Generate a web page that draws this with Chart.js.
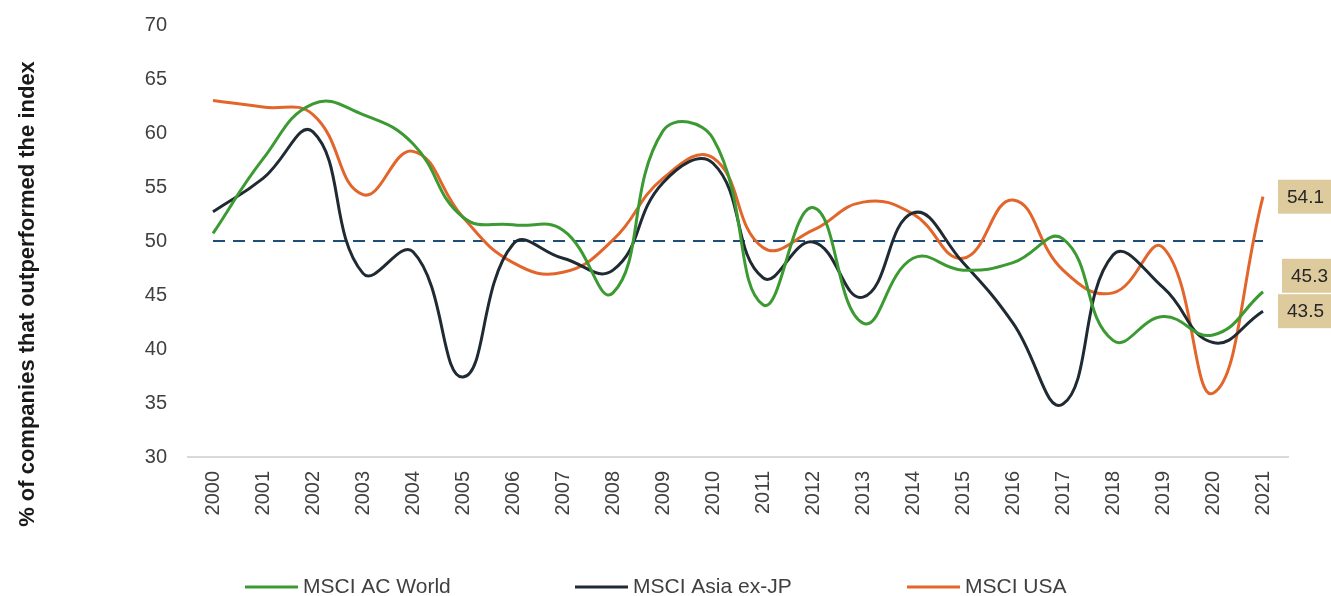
<!DOCTYPE html>
<html>
<head>
<meta charset="utf-8">
<script src="https://cdn.jsdelivr.net/npm/chart.js@4/dist/chart.umd.min.js"></script>
<style>
html,body{margin:0;padding:0;background:#fff;}
#wrap{width:1331px;height:596px;position:relative;}
</style>
</head>
<body>
<div id="wrap"><canvas id="c" width="1331" height="596"></canvas></div>
<script>
const years = ['2000','2001','2002','2003','2004','2005','2006','2007','2008','2009','2010','2011','2012','2013','2014','2015','2016','2017','2018','2019','2020','2021'];
const acWorld = [50.7,57.6,62.7,61.7,59.0,52.2,51.5,51.0,45.2,60.2,59.5,44.1,53.1,42.4,48.4,47.3,48.0,50.2,40.8,43.0,41.3,45.3];
const asiaExJP = [52.7,55.8,60.1,47.0,49.0,37.4,49.7,48.4,47.3,55.4,57.2,46.6,49.9,44.8,52.6,48.0,42.4,34.9,48.7,45.7,40.6,43.5];
const msciUSA = [63.0,62.4,61.7,54.3,58.3,52.2,48.0,47.1,50.1,55.8,57.7,49.4,51.0,53.6,52.5,48.4,53.8,47.3,45.2,49.4,35.9,54.1];
const threshold = years.map(() => 50);
const yTicks = [30,35,40,45,50,55,60,65,70];
const seriesNames = ['MSCI AC World','MSCI Asia ex-JP','MSCI USA'];
const axisTitle = '% of companies that outperformed the index';

const colors = ['#3C9A32','#1F2A33','#E2662B'];
const FONT = '"Liberation Sans", Arial, sans-serif';

// end-of-line value labels per dataset index (vertical nudge in px, left edge of box)
const endLabelStyle = [{dy:-16, x:1282},{dy:0, x:1278},{dy:0, x:1278}];

const endLabels = {
  id:'endLabels',
  afterDatasetsDraw(chart){
    const ctx = chart.ctx;
    ctx.save();
    [2,0,1].forEach(i=>{
      const meta = chart.getDatasetMeta(i);
      const pt = meta.data[meta.data.length-1];
      const ds = chart.data.datasets[i];
      const v = ds.data[ds.data.length-1];
      const st = endLabelStyle[i];
      const cy = pt.y + st.dy;
      ctx.fillStyle = '#DDCB9E';
      ctx.fillRect(st.x, cy-17, 1331-st.x, 34);
      ctx.fillStyle = '#262626';
      ctx.font = '19px ' + FONT;
      ctx.textBaseline = 'middle';
      ctx.textAlign = 'left';
      ctx.fillText(v.toFixed(1), st.x + 9, cy + 1);
    });
    ctx.restore();
  }
};

const extras = {
  id:'extras',
  afterDraw(chart){
    const ctx = chart.ctx;
    ctx.save();
    ctx.translate(28, 294);
    ctx.rotate(-Math.PI/2);
    ctx.font = 'bold 22px ' + FONT;
    ctx.fillStyle = '#1a1a1a';
    ctx.textAlign = 'center';
    ctx.textBaseline = 'middle';
    ctx.fillText(axisTitle, 0, 0);
    ctx.restore();
    ctx.save();
    const starts = [245, 575, 907];
    const y = 587;
    ctx.font = '21px ' + FONT;
    ctx.textBaseline = 'middle';
    ctx.textAlign = 'left';
    seriesNames.forEach((n,i)=>{
      ctx.strokeStyle = colors[i];
      ctx.lineWidth = 3;
      ctx.beginPath();
      ctx.moveTo(starts[i], y);
      ctx.lineTo(starts[i]+53, y);
      ctx.stroke();
      ctx.fillStyle = '#404040';
      ctx.fillText(n, starts[i]+58, y);
    });
    ctx.restore();
  }
};

const mk = (label, data, color) => ({
  label, data, borderColor: color, backgroundColor: color,
  borderWidth: 3, pointRadius: 0, tension: 0.45, fill: false
});

new Chart(document.getElementById('c'), {
  type:'line',
  data:{
    labels: years,
    datasets:[
      mk(seriesNames[0], acWorld, colors[0]),
      mk(seriesNames[1], asiaExJP, colors[1]),
      mk(seriesNames[2], msciUSA, colors[2]),
      {label:'50%', data: threshold, borderColor:'#1F4E79', borderWidth:2, borderDash:[12,8], pointRadius:0, tension:0, fill:false}
    ]
  },
  options:{
    responsive:false,
    animation:false,
    events:[],
    layout:{padding:{left:0,right:43,top:25,bottom:0}},
    plugins:{legend:{display:false}, tooltip:{enabled:false}},
    scales:{
      x:{
        offset:true,
        grid:{display:false, drawTicks:false},
        border:{display:true, color:'#d9d9d9', width:2},
        ticks:{minRotation:90, maxRotation:90, padding:14, color:'#404040', font:{family:FONT, size:20}, autoSkip:false},
        afterFit(s){ s.height = 139; s.paddingTop = 0; s.paddingBottom = 0; s.paddingLeft = 0; s.paddingRight = 0; }
      },
      y:{
        min:30, max:70,
        grid:{display:false, drawTicks:false},
        border:{display:false},
        ticks:{stepSize:5, padding:21, color:'#404040', font:{family:FONT, size:20},
          callback:(v)=> yTicks.includes(v) ? String(v) : ''},
        afterFit(s){ s.width = 188; s.paddingTop = 0; s.paddingBottom = 0; }
      }
    }
  },
  plugins:[endLabels, extras]
});
</script>
</body>
</html>
